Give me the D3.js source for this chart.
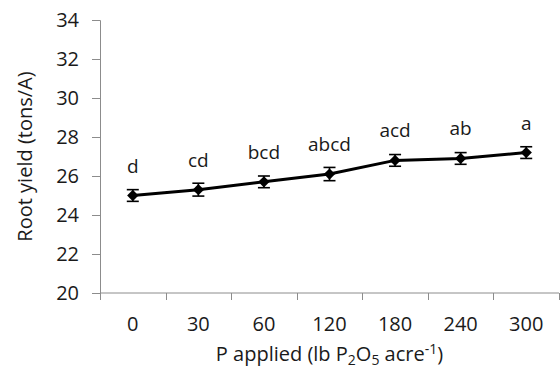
<!DOCTYPE html>
<html>
<head>
<meta charset="utf-8">
<script src="https://cdn.jsdelivr.net/npm/d3@7"></script>
<style>
  html, body { margin: 0; padding: 0; background: #fff; }
  svg { display: block; font-family: "Open Sans", "Noto Sans", sans-serif; }
</style>
</head>
<body>
<div id="chart"></div>
<script>
// P rates (categories), mean root yield, error bar half-widths and letter groups
const rates = ['0', '30', '60', '120', '180', '240', '300']
const yieldMeans = [25.0, 25.3, 25.7, 26.1, 26.8, 26.9, 27.2]
const yieldErrors = [0.3, 0.33, 0.3, 0.34, 0.3, 0.3, 0.3]
const letters = ['d', 'cd', 'bcd', 'abcd', 'acd', 'ab', 'a']
const yTicks = [20, 22, 24, 26, 28, 30, 32, 34]

const width = 560
const height = 368
const margin = { top: 20, right: 1, bottom: 75, left: 100 }

const svg = d3
  .select('#chart')
  .append('svg')
  .attr('width', width)
  .attr('height', height)

const x = d3
  .scaleBand()
  .domain(rates)
  .range([margin.left, width - margin.right])

const y = d3
  .scaleLinear()
  .domain([20, 34])
  .range([height - margin.bottom, margin.top])

const axisColor = '#8c8c8c'
const textColor = '#1a1a1a'

// Y axis
const yAxis = svg
  .append('g')
  .attr('transform', `translate(${margin.left},0)`)
  .call(d3.axisLeft(y).tickValues(yTicks).tickSize(8).tickPadding(13).tickFormat(d3.format('d')))
yAxis.select('.domain').attr('stroke', axisColor)
yAxis.selectAll('.tick line').attr('stroke', axisColor)
yAxis.selectAll('.tick text')
  .attr('font-size', 20)
  .attr('font-family', '"Open Sans", sans-serif')
  .attr('fill', textColor)

// X axis: ticks at category boundaries, labels centred in bands
const xAxisG = svg.append('g').attr('transform', `translate(0,${y(20)})`)
xAxisG
  .append('line')
  .attr('x1', margin.left)
  .attr('x2', width - margin.right)
  .attr('stroke', axisColor)
const bounds = rates.map((r) => x(r)).concat([x(rates[rates.length - 1]) + x.bandwidth()])
xAxisG
  .selectAll('line.tick')
  .data(bounds)
  .enter()
  .append('line')
  .attr('class', 'tick')
  .attr('x1', (d) => Math.round(d) + 0.5)
  .attr('x2', (d) => Math.round(d) + 0.5)
  .attr('y1', 0)
  .attr('y2', 7)
  .attr('stroke', axisColor)
xAxisG
  .selectAll('text')
  .data(rates)
  .enter()
  .append('text')
  .attr('x', (d) => x(d) + x.bandwidth() / 2)
  .attr('y', 38)
  .attr('text-anchor', 'middle')
  .attr('font-size', 20)
  .attr('fill', textColor)
  .text((d) => d)

// Axis titles
svg
  .append('text')
  .attr('transform', `translate(32,${(y(20) + y(34)) / 2}) rotate(-90)`)
  .attr('text-anchor', 'middle')
  .attr('font-size', 20)
  .attr('fill', textColor)
  .text('Root yield (tons/A)')

const xTitle = svg
  .append('text')
  .attr('x', (margin.left + width - margin.right) / 2)
  .attr('y', 361)
  .attr('text-anchor', 'middle')
  .attr('font-size', 20)
  .attr('fill', textColor)
xTitle.append('tspan').text('P applied (lb P')
xTitle.append('tspan').attr('font-size', 14).attr('dy', 4).text('2')
xTitle.append('tspan').attr('dy', -4).text('O')
xTitle.append('tspan').attr('font-size', 14).attr('dy', 4).text('5')
xTitle.append('tspan').attr('dy', -4).text(' acre')
xTitle.append('tspan').attr('font-size', 14).attr('dy', -7).text('-1')
xTitle.append('tspan').attr('dy', 7).text(')')

const cx = (i) => x(rates[i]) + x.bandwidth() / 2
const pts = yieldMeans.map((v, i) => ({ i, v, e: yieldErrors[i], l: letters[i] }))

// Error bars
const eb = svg.append('g').attr('stroke', '#000').attr('stroke-width', 1.6)
pts.forEach((d) => {
  const xc = cx(d.i)
  eb.append('line').attr('x1', xc).attr('x2', xc).attr('y1', y(d.v - d.e)).attr('y2', y(d.v + d.e))
  eb.append('line').attr('x1', xc - 6).attr('x2', xc + 6).attr('y1', y(d.v + d.e)).attr('y2', y(d.v + d.e))
  eb.append('line').attr('x1', xc - 6).attr('x2', xc + 6).attr('y1', y(d.v - d.e)).attr('y2', y(d.v - d.e))
})

// Line
svg
  .append('path')
  .datum(pts)
  .attr('fill', 'none')
  .attr('stroke', '#000')
  .attr('stroke-width', 3)
  .attr('stroke-linejoin', 'round')
  .attr('d', d3.line().x((d) => cx(d.i)).y((d) => y(d.v)))

// Diamond markers
svg
  .append('g')
  .selectAll('path')
  .data(pts)
  .enter()
  .append('path')
  .attr('d', d3.symbol(d3.symbolSquare, 64)())
  .attr('transform', (d) => `translate(${cx(d.i)},${y(d.v)}) rotate(45)`)
  .attr('fill', '#000')

// Significance letters
svg
  .append('g')
  .selectAll('text')
  .data(pts)
  .enter()
  .append('text')
  .attr('x', (d) => cx(d.i))
  .attr('y', (d) => y(d.v) - 23)
  .attr('text-anchor', 'middle')
  .attr('font-size', 19)
  .attr('fill', textColor)
  .text((d) => d.l)
</script>
</body>
</html>
